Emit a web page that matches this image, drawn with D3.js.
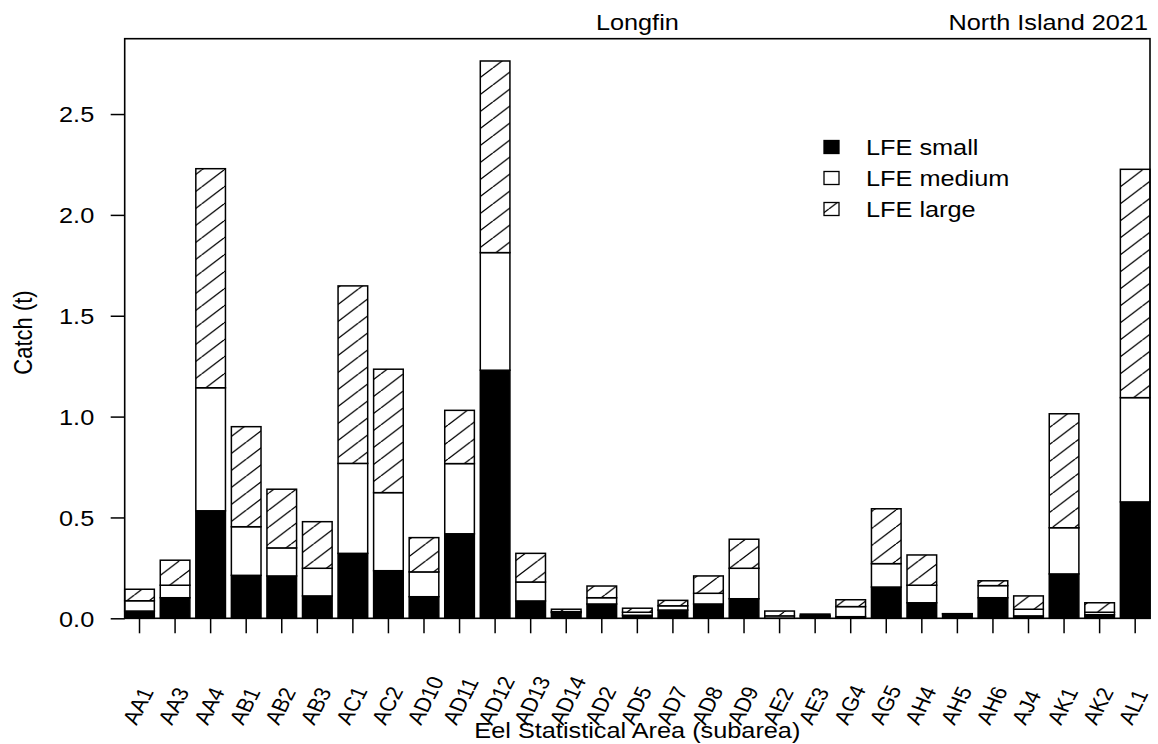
<!DOCTYPE html>
<html>
<head>
<meta charset="utf-8">
<script src="https://cdn.jsdelivr.net/npm/d3@7"></script>
<style>
  html, body { margin: 0; padding: 0; background: #fff; }
  svg { display: block; font-family: "Liberation Sans", Arial, sans-serif; }
</style>
</head>
<body>
<svg id="chart" width="1158" height="744"></svg>
<script>
// Longfin eel catch (t) by Eel Statistical Area subarea, North Island 2021
const categories = ["AA1","AA3","AA4","AB1","AB2","AB3","AC1","AC2","AD10","AD11",
  "AD12","AD13","AD14","AD2","AD5","AD7","AD8","AD9","AE2","AE3",
  "AG4","AG5","AH4","AH5","AH6","AJ4","AK1","AK2","AL1"];

const lfeSmall  = [0.036,0.102,0.533,0.213,0.210,0.111,0.322,0.236,0.107,0.419,
  1.230,0.086,0.028,0.071,0.015,0.041,0.071,0.097,0.000,0.008,
  0.008,0.155,0.077,0.022,0.102,0.012,0.220,0.018,0.577];
const lfeMedium = [0.051,0.062,0.610,0.241,0.139,0.137,0.446,0.387,0.123,0.348,
  0.583,0.094,0.005,0.031,0.015,0.021,0.053,0.151,0.012,0.006,
  0.050,0.116,0.087,0.001,0.060,0.033,0.229,0.012,0.517];
const lfeLarge  = [0.057,0.124,1.086,0.496,0.291,0.231,0.880,0.612,0.170,0.264,
  0.950,0.142,0.012,0.058,0.020,0.027,0.086,0.144,0.024,0.007,
  0.034,0.272,0.150,0.000,0.024,0.066,0.565,0.047,1.132];

const seriesNames = ["LFE small","LFE medium","LFE large"];
const yTicks = [0, 0.5, 1.0, 1.5, 2.0, 2.5];

const titleCenter = "Longfin";
const titleRight = "North Island 2021";
const xTitle = "Eel Statistical Area (subarea)";
const yTitle = "Catch (t)";

// Layout
const W = 1158, H = 744;
const plot = { left: 124.7, right: 1150, top: 38.7, bottom: 618.3 };
const FONT = 22;
const STRETCH = 1.15;   // text is drawn slightly wide

const svg = d3.select("#chart");

// Hatch pattern for the large size class
const defs = svg.append("defs");
const pw = 22.4, ph = 17;
const pat = defs.append("pattern")
  .attr("id", "hatch")
  .attr("patternUnits", "userSpaceOnUse")
  .attr("width", pw).attr("height", ph);
pat.append("rect").attr("width", pw).attr("height", ph).attr("fill", "#fff");
pat.append("path")
  .attr("d", `M0,${ph} L${pw},0 M${-pw},${ph} L0,0 M${pw},${ph} L${2*pw},0`)
  .attr("stroke", "#000").attr("stroke-width", 1.3).attr("fill", "none");

const fills = ["#000", "#fff", "url(#hatch)"];

// Table for stacking
const table = categories.map((c, i) => ({
  area: c,
  "LFE small": lfeSmall[i],
  "LFE medium": lfeMedium[i],
  "LFE large": lfeLarge[i]
}));
const stacked = d3.stack().keys(seriesNames)(table);
const maxTotal = d3.max(table, d => seriesNames.reduce((s, k) => s + d[k], 0));

const x = d3.scaleBand()
  .domain(categories)
  .range([plot.left, plot.right])
  .paddingInner(0.2 / 1.2)
  .paddingOuter(0);

const y = d3.scaleLinear()
  .domain([0, maxTotal * 1.04])
  .range([plot.bottom, plot.top]);

// Bars
const layers = svg.append("g").selectAll("g")
  .data(stacked)
  .join("g")
  .attr("fill", (d, i) => fills[i]);

layers.selectAll("rect")
  .data(d => d)
  .join("rect")
  .attr("x", d => x(d.data.area))
  .attr("width", x.bandwidth())
  .attr("y", d => y(d[1]))
  .attr("height", d => Math.max(0, y(d[0]) - y(d[1])))
  .attr("stroke", "#000")
  .attr("stroke-width", 1.5);

// Frame
svg.append("rect")
  .attr("x", plot.left).attr("y", plot.top)
  .attr("width", plot.right - plot.left)
  .attr("height", plot.bottom - plot.top)
  .attr("fill", "none").attr("stroke", "#000").attr("stroke-width", 1.6);

// Y axis
const yAxis = svg.append("g")
  .attr("transform", `translate(${plot.left},0)`)
  .call(d3.axisLeft(y).tickValues(yTicks).tickFormat(d3.format(".1f")).tickSize(14).tickSizeOuter(0));
yAxis.select(".domain").remove();
yAxis.selectAll(".tick line").attr("stroke", "#000").attr("stroke-width", 1.5);
yAxis.selectAll(".tick text")
  .attr("x", null).attr("dy", "0.35em")
  .attr("transform", `translate(-30.5,0) scale(${STRETCH},1)`)
  .attr("text-anchor", "end")
  .attr("font-size", FONT)
  .attr("font-family", null)
  .attr("fill", "#000");

// X axis ticks
const xAxis = svg.append("g")
  .attr("transform", `translate(0,${plot.bottom})`)
  .call(d3.axisBottom(x).tickSize(15).tickSizeOuter(0).tickFormat(""));
xAxis.select(".domain").remove();
xAxis.selectAll(".tick line").attr("stroke", "#000").attr("stroke-width", 1.5);

// Slanted category labels
svg.append("g").selectAll("text")
  .data(categories)
  .join("text")
  .attr("transform", d => `translate(${x(d) + x.bandwidth() / 2 - 3},726) scale(${STRETCH},1) rotate(-66)`)
  .attr("text-anchor", "start")
  .attr("font-size", 20)
  .text(d => d);

// Titles
svg.append("text")
  .attr("transform", `translate(${(plot.left + plot.right) / 2},30) scale(${STRETCH},1)`)
  .attr("text-anchor", "middle").attr("font-size", FONT)
  .text(titleCenter);

svg.append("text")
  .attr("transform", `translate(1148,30) scale(${STRETCH},1)`)
  .attr("text-anchor", "end").attr("font-size", FONT)
  .text(titleRight);

svg.append("text")
  .attr("transform", `translate(${(plot.left + plot.right) / 2},738) scale(${STRETCH},1)`)
  .attr("text-anchor", "middle").attr("font-size", FONT)
  .text(xTitle);

svg.append("text")
  .attr("transform", `translate(32,${(plot.top + plot.bottom) / 2 + 4}) scale(${STRETCH},1) rotate(-90)`)
  .attr("text-anchor", "middle").attr("font-size", FONT)
  .text(yTitle);

// Legend
const legend = svg.append("g");
const legendRows = legend.selectAll("g")
  .data(seriesNames)
  .join("g")
  .attr("transform", (d, i) => `translate(0,${147 + i * 31})`);

legendRows.append("rect")
  .attr("x", 824).attr("y", -6.5)
  .attr("width", 15).attr("height", 13)
  .attr("fill", (d, i) => fills[i])
  .attr("stroke", "#000").attr("stroke-width", 1.3);

legendRows.append("text")
  .attr("transform", `translate(866,8) scale(${STRETCH},1)`)
  .attr("font-size", FONT)
  .text(d => d);
</script>
</body>
</html>
